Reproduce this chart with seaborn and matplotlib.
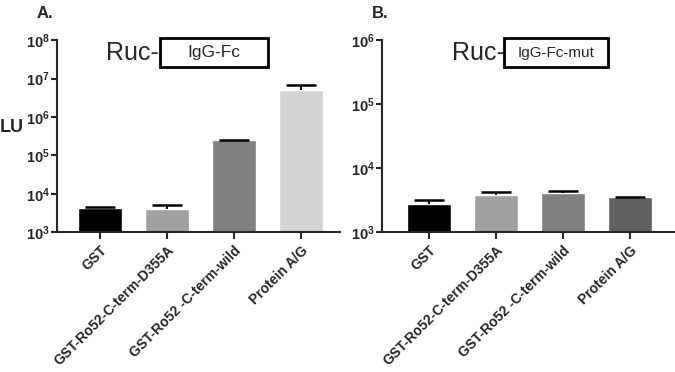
import numpy as np
import pandas as pd
import seaborn as sns
import matplotlib.pyplot as plt
from matplotlib.patches import Rectangle
from matplotlib.ticker import FixedLocator, FuncFormatter, NullLocator

categories = ['GST', 'GST-Ro52-C-term-D355A', 'GST-Ro52 -C-term-wild', 'Protein A/G']

# panel A: Ruc-IgG-Fc
fc_mean = [4300, 3960, 246000, 5.0e6]
fc_upper = [4640, 5240, 256000, 6.8e6]
# panel B: Ruc-IgG-Fc-mut
mut_mean = [2770, 3780, 4110, 3520]
mut_upper = [3190, 4210, 4470, 3600]

colors_a = ['#000000', '#a0a0a0', '#808080', '#d3d3d3']
colors_b = ['#000000', '#a0a0a0', '#808080', '#606060']

sns.set_theme(style='ticks')
plt.rcParams['font.family'] = ['Liberation Sans', 'DejaVu Sans']
plt.rcParams['mathtext.fontset'] = 'custom'
plt.rcParams['mathtext.rm'] = 'Liberation Sans'
plt.rcParams['mathtext.bf'] = 'Liberation Sans:bold'

fig = plt.figure(figsize=(6.75, 3.72), dpi=100)
ax_a = fig.add_axes([0.0844, 0.376, 0.4196, 0.516])
ax_b = fig.add_axes([0.566, 0.376, 0.434, 0.516])


def draw_panel(ax, mean, upper, colors, ymax, xlim):
    df = pd.DataFrame({'cat': categories, 'val': mean})
    sns.barplot(data=df, x='cat', y='val', hue='cat', palette=colors,
                legend=False, width=0.66, ax=ax, saturation=1)
    ax.set_yscale('log')
    err = np.array(upper) - np.array(mean)
    _, caps, _ = ax.errorbar(range(len(categories)), mean,
                             yerr=[np.zeros(len(mean)), err], fmt='none',
                             ecolor='black', elinewidth=1.5, capsize=10.5,
                             capthick=1.8)
    # keep only the upper caps
    caps[0].remove()
    ax.set_ylim(1e3, ymax)
    ax.set_xlim(*xlim)
    exps = list(range(3, int(round(np.log10(ymax))) + 1))
    ax.yaxis.set_major_locator(FixedLocator([10.0 ** e for e in exps]))
    ax.yaxis.set_minor_locator(NullLocator())
    ax.yaxis.set_major_formatter(FuncFormatter(
        lambda v, p: r'$\mathbf{10^{%d}}$' % round(np.log10(v))))
    ax.set_xlabel('')
    ax.set_ylabel('')
    ax.set_xticks(range(len(categories)))
    ax.set_xticklabels(categories, rotation=45, ha='right',
                       rotation_mode='anchor', fontsize=10, fontweight='bold')
    ax.tick_params(axis='y', labelsize=10.5, length=4, width=1.5, pad=1)
    ax.tick_params(axis='x', length=5, width=1.5, pad=3)
    for s in ['left', 'bottom']:
        ax.spines[s].set_linewidth(1.5)
    sns.despine(ax=ax)


draw_panel(ax_a, fc_mean, fc_upper, colors_a, 1e8, (-0.64, 3.58))
draw_panel(ax_b, mut_mean, mut_upper, colors_b, 1e6, (-0.70, 3.67))

W, H = 675, 372


def title_box(x_ruc, x0, x1, text, size):
    fig.text(x_ruc / W, 1 - 53 / H, 'Ruc-', fontsize=18, ha='left', va='center')
    fig.add_artist(Rectangle((x0 / W, 1 - 67 / H), (x1 - x0) / W, 29 / H,
                             transform=fig.transFigure, fill=False,
                             edgecolor='black', linewidth=2))
    fig.text((x0 + x1) / 2 / W, 1 - 53 / H, text, fontsize=size,
             ha='center', va='center')


title_box(106, 160, 268, 'IgG-Fc', 12.5)
title_box(452, 504, 608, 'IgG-Fc-mut', 11)

fig.text(37 / W, 1 - 14 / H, 'A.', fontsize=12, fontweight='bold', va='center')
fig.text(372 / W, 1 - 14 / H, 'B.', fontsize=12, fontweight='bold', va='center')
fig.text(0, 1 - 128 / H, 'LU', fontsize=13, fontweight='bold', va='center')

fig.savefig('out.png', dpi=100)
